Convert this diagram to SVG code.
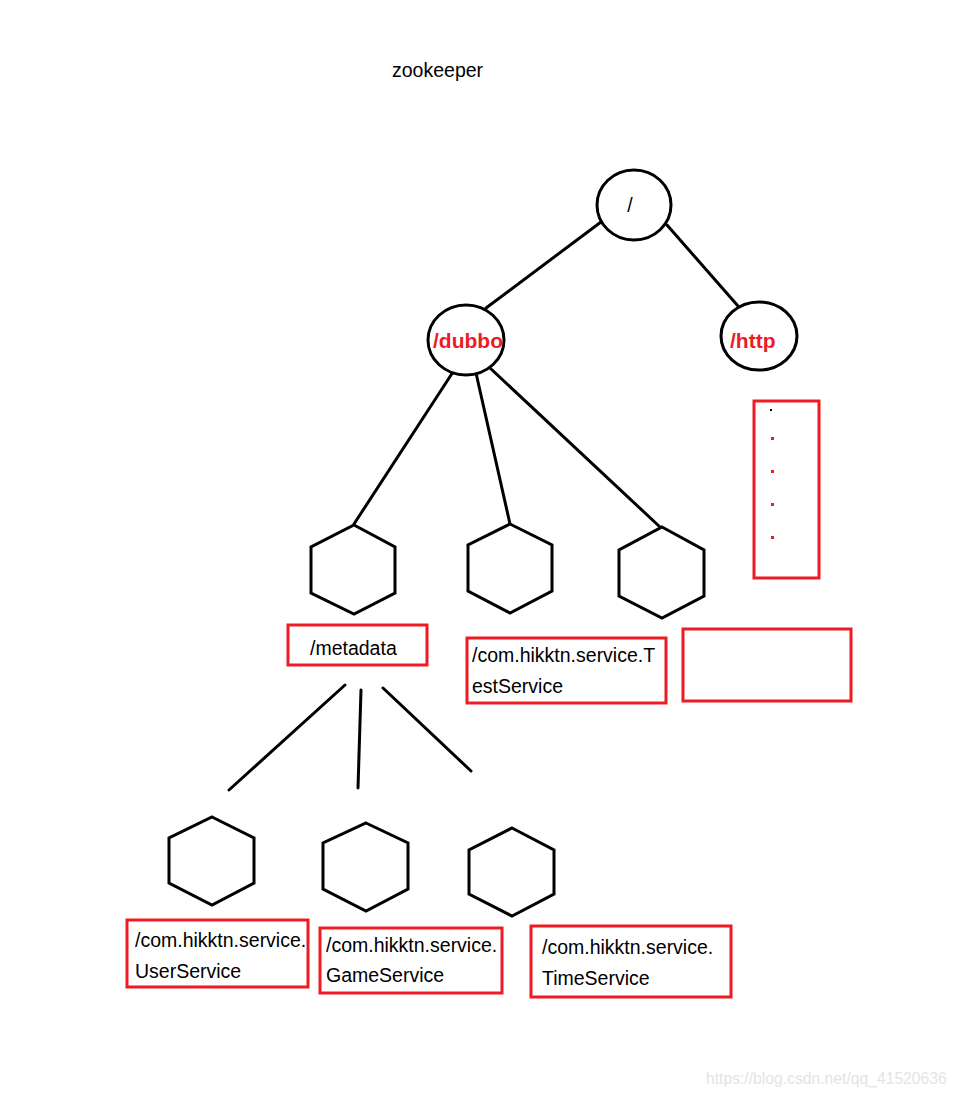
<svg xmlns="http://www.w3.org/2000/svg" width="958" height="1096" viewBox="0 0 958 1096">
<style>
.ln{stroke:#000;stroke-width:3;fill:none;stroke-linecap:round}
.nd{stroke:#000;stroke-width:3;fill:#fff}
.bx{stroke:#ed1c24;stroke-width:3;fill:none}
.t{font-family:"Liberation Sans",Arial,sans-serif;font-size:19.5px;fill:#000}
.rt{font-family:"Liberation Sans",Arial,sans-serif;font-size:21px;font-weight:bold;fill:#ed1c24}
</style>
<rect width="958" height="1096" fill="#fff"/>
<text class="t" x="392" y="77">zookeeper</text>
<g id="connectors">
<line class="ln" x1="601" y1="222" x2="486" y2="308"/>
<line class="ln" x1="667" y1="225" x2="738" y2="306"/>
<line class="ln" x1="453" y1="372" x2="354" y2="524"/>
<line class="ln" x1="476" y1="373" x2="510" y2="524"/>
<line class="ln" x1="490" y1="368" x2="660" y2="527"/>
<line class="ln" x1="345" y1="685" x2="229" y2="790"/>
<line class="ln" x1="361" y1="690" x2="358" y2="788"/>
<line class="ln" x1="383" y1="688" x2="471" y2="771"/>
</g>
<g id="root">
<ellipse class="nd" cx="634" cy="205" rx="37" ry="35"/>
<text class="t" x="630" y="212" text-anchor="middle">/</text>
</g>
<g id="dubbo">
<ellipse class="nd" cx="466" cy="340" rx="38" ry="35"/>
<text class="rt" x="433" y="348">/dubbo</text>
</g>
<g id="http">
<ellipse class="nd" cx="759" cy="336" rx="38" ry="34"/>
<text class="rt" x="730" y="348">/http</text>
</g>
<g id="http-box">
<rect class="bx" x="754" y="401" width="65" height="177"/>
<rect x="770" y="409" width="2" height="2" fill="#000"/>
<rect x="771" y="437" width="3" height="3" fill="#ed1c24"/>
<rect x="771" y="470" width="3" height="3" fill="#ed1c24"/>
<rect x="771" y="503" width="3" height="3" fill="#ed1c24"/>
<rect x="771" y="536" width="3" height="3" fill="#ed1c24"/>
</g>
<g id="metadata">
<polygon class="nd" points="354,525 395,547 395,593 354,614 311,593 311,547"/>
<rect class="bx" x="288" y="625" width="139" height="40"/>
<text class="t" x="310" y="655">/metadata</text>
</g>
<g id="testservice">
<polygon class="nd" points="510,524 552,545 552,591 510,613 468,591 468,545"/>
<rect class="bx" x="467" y="638" width="199" height="65"/>
<text class="t" x="472" y="662">/com.hikktn.service.T</text>
<text class="t" x="472" y="693">estService</text>
</g>
<g id="third">
<polygon class="nd" points="662,527 704,550 704,596 662,618 619,596 619,550"/>
<rect class="bx" x="683" y="629" width="168" height="72"/>
</g>
<g id="userservice">
<polygon class="nd" points="212,817 254,838 254,883 212,905 169,883 169,838"/>
<rect class="bx" x="127" y="920" width="181" height="67"/>
<text class="t" x="135" y="947">/com.hikktn.service.</text>
<text class="t" x="135" y="978">UserService</text>
</g>
<g id="gameservice">
<polygon class="nd" points="366,823 408,843 408,889 366,911 323,889 323,843"/>
<rect class="bx" x="320" y="928" width="182" height="65"/>
<text class="t" x="326" y="952">/com.hikktn.service.</text>
<text class="t" x="326" y="982">GameService</text>
</g>
<g id="timeservice">
<polygon class="nd" points="512,828 554,850 554,894 512,916 469,894 469,850"/>
<rect class="bx" x="531" y="926" width="200" height="71"/>
<text class="t" x="542" y="954">/com.hikktn.service.</text>
<text class="t" x="542" y="985">TimeService</text>
</g>
<text x="706" y="1084" font-family="Liberation Sans,Arial,sans-serif" font-size="15.7" fill="#e4e4e4">https://blog.csdn.net/qq_41520636</text>
</svg>
